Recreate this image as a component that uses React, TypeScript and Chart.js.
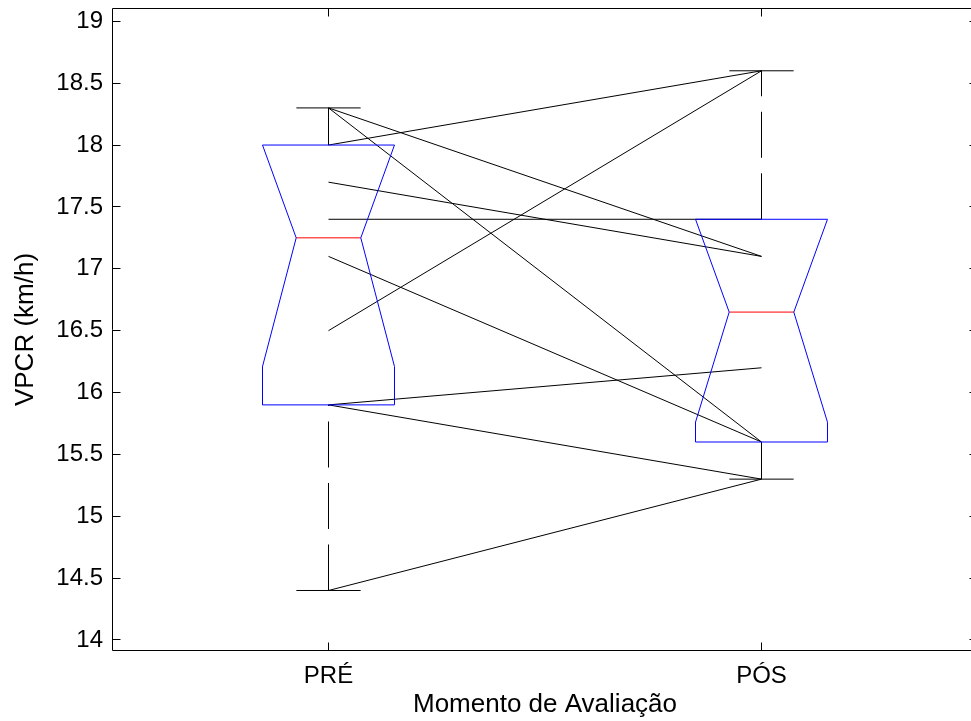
import React, { useEffect, useRef } from 'react';
import { Chart, registerables } from 'chart.js';

Chart.register(...registerables);

// ---------- data ----------
const groupLabels = ['PRÉ', 'PÓS'];
const groupPositions = [1, 2];

// paired observations (PRÉ -> PÓS)
const preValues = [18.3, 18.3, 18.0, 17.7, 17.4, 17.1, 16.5, 15.9, 15.9, 14.4];
const postValues = [17.1, 15.6, 18.6, 17.1, 17.4, 15.6, 18.6, 16.2, 15.3, 15.3];

// box statistics per group
const q1Values = [15.9, 15.6];
const medianValues = [17.25, 16.65];
const q3Values = [18.0, 17.4];
const notchLowValues = [16.21, 15.76];
const notchHighValues = [18.0, 17.4];
const whiskerLowValues = [14.4, 15.3];
const whiskerHighValues = [18.3, 18.6];

const yTickValues = [14, 14.5, 15, 15.5, 16, 16.5, 17, 17.5, 18, 18.5, 19];

const xTitle = 'Momento de Avaliação';
const yTitle = 'VPCR (km/h)';

// ---------- styling ----------
const X_MIN = 0.5;
const X_MAX = 2.5;
const Y_MIN = 13.911;
const Y_MAX = 19.1075;
const BOX_HALF = 0.1524;
const NOTCH_HALF = 0.0746;
const CAP_HALF = 0.0742;
const FONT = "'Liberation Sans', Arial, Helvetica, sans-serif";
const FONT_SIZE = 24;
const TITLE_SIZE = 26;
const BLUE = '#0000ff';
const RED = '#ff0000';
const BLACK = '#000000';
const DASH = [46, 15.5];
const TICK_LEN = 8;

function lineDs(points: { x: number; y: number }[], color: string, dash: number[] = []) {
  return {
    data: points,
    showLine: true,
    borderColor: color,
    backgroundColor: color,
    borderWidth: 1,
    borderDash: dash,
    pointRadius: 0,
    pointHoverRadius: 0,
    fill: false,
    tension: 0,
  };
}

const framePlugin = {
  id: 'matlabFrame',
  afterDatasetsDraw(chart: any) {
    const { ctx, chartArea, scales } = chart;
    const { left, right, top, bottom } = chartArea;
    ctx.save();
    ctx.strokeStyle = BLACK;
    ctx.lineWidth = 1;
    ctx.setLineDash([]);
    const L = Math.round(left) + 0.5;
    const R = Math.round(right) - 0.5;
    const T = Math.round(top) + 0.5;
    const B = Math.round(bottom) - 0.5;
    ctx.beginPath();
    ctx.rect(L, T, R - L, B - T);
    ctx.stroke();
    const ys = scales.y;
    ctx.beginPath();
    for (const v of yTickValues) {
      const p = Math.round(ys.getPixelForValue(v) - 0.5) + 0.5;
      ctx.moveTo(L, p);
      ctx.lineTo(L + TICK_LEN, p);
      ctx.moveTo(R, p);
      ctx.lineTo(R - TICK_LEN, p);
    }
    const xs = scales.x;
    for (const v of groupPositions) {
      const p = Math.round(xs.getPixelForValue(v) - 0.5) + 0.5;
      ctx.moveTo(p, B);
      ctx.lineTo(p, B - TICK_LEN);
      ctx.moveTo(p, T);
      ctx.lineTo(p, T + TICK_LEN);
    }
    ctx.stroke();
    ctx.restore();
  },
};

export default function App() {
  const canvasRef = useRef<HTMLCanvasElement | null>(null);

  useEffect(() => {
    const canvas = canvasRef.current;
    if (!canvas) return;

    const datasets: any[] = [];

    // notched boxes, medians, whiskers and caps
    groupPositions.forEach((x, i) => {
      const q1 = q1Values[i];
      const q3 = q3Values[i];
      const md = medianValues[i];
      const nl = notchLowValues[i];
      const nh = notchHighValues[i];
      datasets.push(
        lineDs(
          [
            { x: x - BOX_HALF, y: q1 },
            { x: x + BOX_HALF, y: q1 },
            { x: x + BOX_HALF, y: nl },
            { x: x + NOTCH_HALF, y: md },
            { x: x + BOX_HALF, y: nh },
            { x: x + BOX_HALF, y: q3 },
            { x: x - BOX_HALF, y: q3 },
            { x: x - BOX_HALF, y: nh },
            { x: x - NOTCH_HALF, y: md },
            { x: x - BOX_HALF, y: nl },
            { x: x - BOX_HALF, y: q1 },
          ],
          BLUE
        )
      );
      datasets.push(lineDs([{ x: x - NOTCH_HALF, y: md }, { x: x + NOTCH_HALF, y: md }], RED));
      datasets.push(lineDs([{ x, y: q3 }, { x, y: whiskerHighValues[i] }], BLACK, DASH));
      datasets.push(lineDs([{ x, y: whiskerLowValues[i] }, { x, y: q1 }], BLACK, DASH));
      datasets.push(
        lineDs(
          [
            { x: x - CAP_HALF, y: whiskerHighValues[i] },
            { x: x + CAP_HALF, y: whiskerHighValues[i] },
          ],
          BLACK
        )
      );
      datasets.push(
        lineDs(
          [
            { x: x - CAP_HALF, y: whiskerLowValues[i] },
            { x: x + CAP_HALF, y: whiskerLowValues[i] },
          ],
          BLACK
        )
      );
    });

    // paired lines
    preValues.forEach((p, i) => {
      datasets.push(
        lineDs(
          [
            { x: groupPositions[0], y: p },
            { x: groupPositions[1], y: postValues[i] },
          ],
          BLACK
        )
      );
    });

    const chart = new Chart(canvas, {
      type: 'scatter',
      data: { datasets },
      plugins: [framePlugin],
      options: {
        animation: false,
        responsive: false,
        maintainAspectRatio: false,
        events: [],
        layout: { padding: { top: 8, right: 12, left: 0, bottom: 0 } },
        plugins: {
          legend: { display: false },
          tooltip: { enabled: false },
          title: { display: false },
        },
        scales: {
          x: {
            type: 'linear',
            position: 'bottom',
            min: X_MIN,
            max: X_MAX,
            grid: { display: false, drawTicks: false },
            border: { display: false },
            afterBuildTicks: (s: any) => {
              s.ticks = groupPositions.map((v) => ({ value: v }));
            },
            afterFit: (s: any) => {
              s.height = 70;
              s.paddingLeft = 0;
              s.paddingRight = 0;
              s.paddingTop = 0;
              s.paddingBottom = 0;
            },
            ticks: {
              autoSkip: false,
              maxRotation: 0,
              padding: 11,
              color: BLACK,
              font: { family: FONT, size: FONT_SIZE },
              callback: (v: any) => {
                const idx = groupPositions.indexOf(Number(v));
                return idx >= 0 ? groupLabels[idx] : '';
              },
            },
            title: {
              display: true,
              text: xTitle,
              color: BLACK,
              font: { family: FONT, size: TITLE_SIZE },
              padding: { top: 0, bottom: 1 },
            },
          },
          y: {
            type: 'linear',
            position: 'left',
            min: Y_MIN,
            max: Y_MAX,
            grid: { display: false, drawTicks: false },
            border: { display: false },
            afterBuildTicks: (s: any) => {
              s.ticks = yTickValues.map((v) => ({ value: v }));
            },
            afterFit: (s: any) => {
              s.width = 112;
              s.paddingLeft = 0;
              s.paddingRight = 0;
              s.paddingTop = 0;
              s.paddingBottom = 0;
            },
            ticks: {
              autoSkip: false,
              padding: 9,
              color: BLACK,
              font: { family: FONT, size: FONT_SIZE },
              callback: (v: any) => String(v),
            },
            title: {
              display: true,
              text: yTitle,
              color: BLACK,
              font: { family: FONT, size: TITLE_SIZE },
              padding: { top: 10, bottom: 0 },
            },
          },
        },
      } as any,
    });

    return () => {
      chart.destroy();
    };
  }, []);

  return (
    <div
      style={{
        position: 'fixed',
        left: 0,
        top: 0,
        width: 971,
        height: 721,
        overflow: 'hidden',
        background: '#ffffff',
      }}
    >
      <canvas
        ref={canvasRef}
        width={990}
        height={721}
        style={{ display: 'block', width: 990, height: 721 }}
      />
    </div>
  );
}
